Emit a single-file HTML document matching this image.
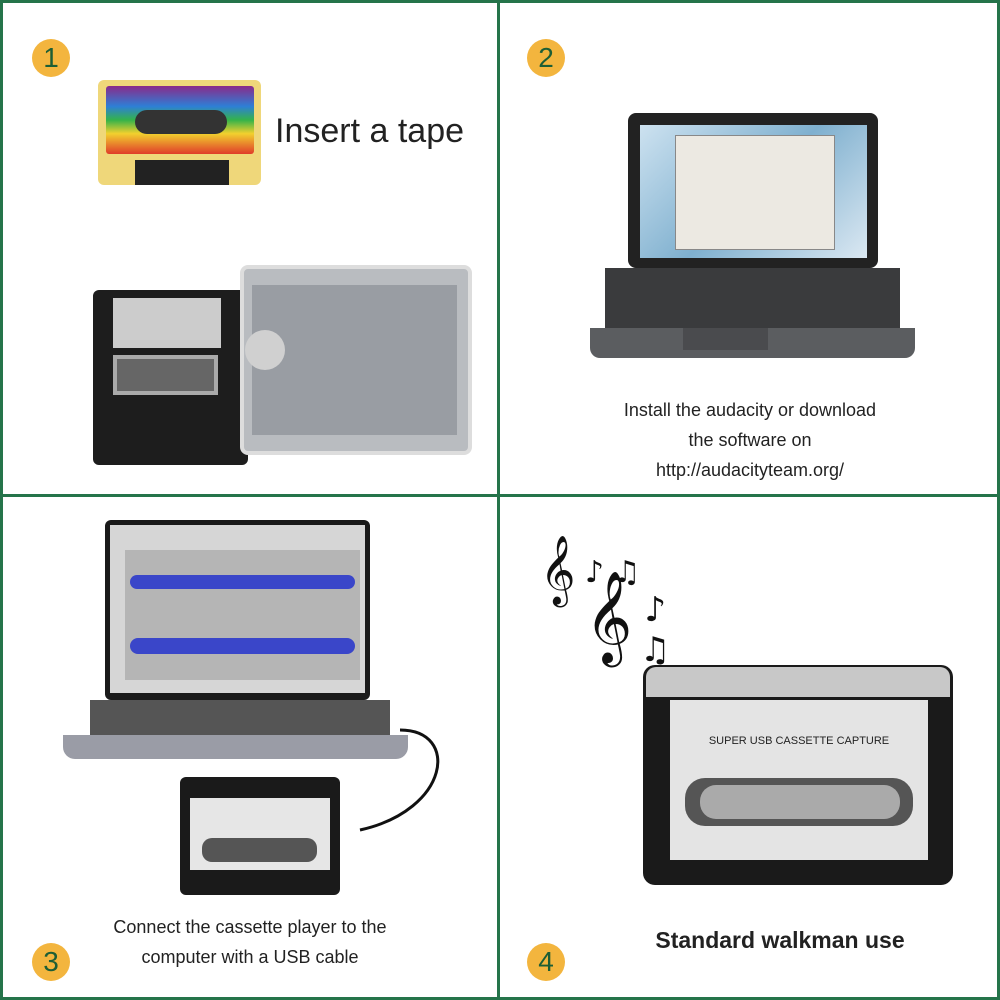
<!DOCTYPE html>
<html><head><meta charset="utf-8"><style>
*{margin:0;padding:0;box-sizing:border-box}
body{width:1000px;height:1000px;position:relative;background:#fff;font-family:"Liberation Sans",sans-serif;overflow:hidden}
.a{position:absolute}
.ln{position:absolute;background:#25744a}
.c{position:absolute;width:38px;height:38px;border-radius:50%;background:#f3b53e;color:#1d5e35;font-size:28px;text-align:center;line-height:38px}
.t{position:absolute;color:#222;text-align:center}
</style></head><body>
<div class="ln" style="left:0;top:0;width:1000px;height:3px"></div>
<div class="ln" style="left:0;top:997px;width:1000px;height:3px"></div>
<div class="ln" style="left:0;top:0;width:3px;height:1000px"></div>
<div class="ln" style="left:997px;top:0;width:3px;height:1000px"></div>
<div class="ln" style="left:497px;top:0;width:3px;height:1000px"></div>
<div class="ln" style="left:0;top:494px;width:1000px;height:3px"></div>

<div class="c" style="left:32px;top:39px">1</div>
<div class="c" style="left:527px;top:39px">2</div>
<div class="c" style="left:32px;top:943px">3</div>
<div class="c" style="left:527px;top:943px">4</div>

<!-- panel1 -->
<div class="a" style="left:98px;top:80px;width:163px;height:105px;background:#efd77a;border-radius:6px"></div>
<div class="a" style="left:106px;top:86px;width:148px;height:68px;background:linear-gradient(#8a2a8a,#2e7fd6 30%,#34b34a 50%,#f2d02e 70%,#e03b2a);border-radius:3px"></div>
<div class="a" style="left:135px;top:110px;width:92px;height:24px;background:#333;border-radius:12px"></div>
<div class="a" style="left:135px;top:160px;width:94px;height:25px;background:#222"></div>
<div class="t" style="left:275px;top:112px;font-size:34px">Insert a tape</div>
<div class="a" style="left:93px;top:290px;width:155px;height:175px;background:#1d1d1d;border-radius:6px"></div>
<div class="a" style="left:113px;top:298px;width:108px;height:50px;background:#ccc"></div>
<div class="a" style="left:113px;top:355px;width:105px;height:40px;background:#666;border:4px solid #aaa"></div>
<div class="a" style="left:240px;top:265px;width:232px;height:190px;background:#b9bcc0;border-radius:8px;border:4px solid #ddd"></div>
<div class="a" style="left:252px;top:285px;width:205px;height:150px;background:#999da3"></div>
<div class="a" style="left:245px;top:330px;width:40px;height:40px;border-radius:50%;background:#d0d0d0"></div>

<!-- panel2 laptop -->
<div class="a" style="left:628px;top:113px;width:250px;height:155px;background:#222;border-radius:8px"></div>
<div class="a" style="left:640px;top:125px;width:227px;height:133px;background:linear-gradient(135deg,#cde2f0,#7fb0cf 50%,#dbe8f2)"></div>
<div class="a" style="left:675px;top:135px;width:160px;height:115px;background:#ece9e2;border:1px solid #888"></div>
<div class="a" style="left:605px;top:268px;width:295px;height:60px;background:#3a3b3d"></div>
<div class="a" style="left:590px;top:328px;width:325px;height:30px;background:#5b5d60;border-radius:0 0 10px 10px"></div>
<div class="a" style="left:683px;top:328px;width:85px;height:22px;background:#4a4b4e"></div>
<div class="t" style="left:560px;top:395px;width:380px;font-size:18px;line-height:30px">Install the audacity or download<br>the software on<br>http://audacityteam.org/</div>

<!-- panel3 -->
<div class="a" style="left:105px;top:520px;width:265px;height:180px;background:#1a1a1a;border-radius:6px"></div>
<div class="a" style="left:110px;top:525px;width:255px;height:168px;background:#d6d6d6"></div>
<div class="a" style="left:125px;top:550px;width:235px;height:65px;background:#b5b5b5"></div>
<div class="a" style="left:130px;top:575px;width:225px;height:14px;background:#3a46c9;border-radius:7px"></div>
<div class="a" style="left:125px;top:615px;width:235px;height:65px;background:#b5b5b5"></div>
<div class="a" style="left:130px;top:638px;width:225px;height:16px;background:#3a46c9;border-radius:8px"></div>
<div class="a" style="left:90px;top:700px;width:300px;height:35px;background:#555"></div>
<div class="a" style="left:63px;top:735px;width:345px;height:24px;background:#9a9ca6;border-radius:0 0 12px 12px"></div>
<svg class="a" style="left:340px;top:710px" width="110" height="130"><path d="M60 20 C120 20 110 100 20 120" fill="none" stroke="#111" stroke-width="3"/></svg>
<div class="a" style="left:180px;top:777px;width:160px;height:118px;background:#1a1a1a;border-radius:6px"></div>
<div class="a" style="left:190px;top:798px;width:140px;height:72px;background:#e6e6e6"></div>
<div class="a" style="left:202px;top:838px;width:115px;height:24px;background:#555;border-radius:10px"></div>
<div class="t" style="left:60px;top:912px;width:380px;font-size:18px;line-height:30px">Connect the cassette player to the<br>computer with a USB cable</div>

<!-- panel4 -->
<div class="t" style="left:540px;top:535px;font-size:60px;color:#111;font-family:'DejaVu Sans',sans-serif">𝄞</div>
<div class="t" style="left:585px;top:570px;font-size:80px;color:#111;font-family:'DejaVu Sans',sans-serif">𝄞</div>
<div class="t" style="left:585px;top:555px;font-size:30px;color:#111;font-family:'DejaVu Sans',sans-serif">♪ ♫</div>
<div class="t" style="left:640px;top:590px;font-size:34px;color:#111;font-family:'DejaVu Sans',sans-serif">♪<br>♫</div>
<div class="a" style="left:643px;top:665px;width:310px;height:220px;background:#1a1a1a;border-radius:12px"></div>
<div class="a" style="left:646px;top:667px;width:304px;height:30px;background:#c8c8c8;border-radius:10px 10px 0 0"></div>
<div class="a" style="left:670px;top:700px;width:258px;height:160px;background:#e4e4e4"></div>
<div class="a" style="left:685px;top:778px;width:228px;height:48px;background:#555;border-radius:20px"></div>
<div class="a" style="left:700px;top:785px;width:200px;height:34px;background:#aaa;border-radius:16px"></div>
<div class="t" style="left:670px;top:735px;width:258px;font-size:11px">SUPER USB CASSETTE CAPTURE</div>
<div class="t" style="left:600px;top:927px;width:360px;font-size:23px;font-weight:bold">Standard walkman use</div>
</body></html>
